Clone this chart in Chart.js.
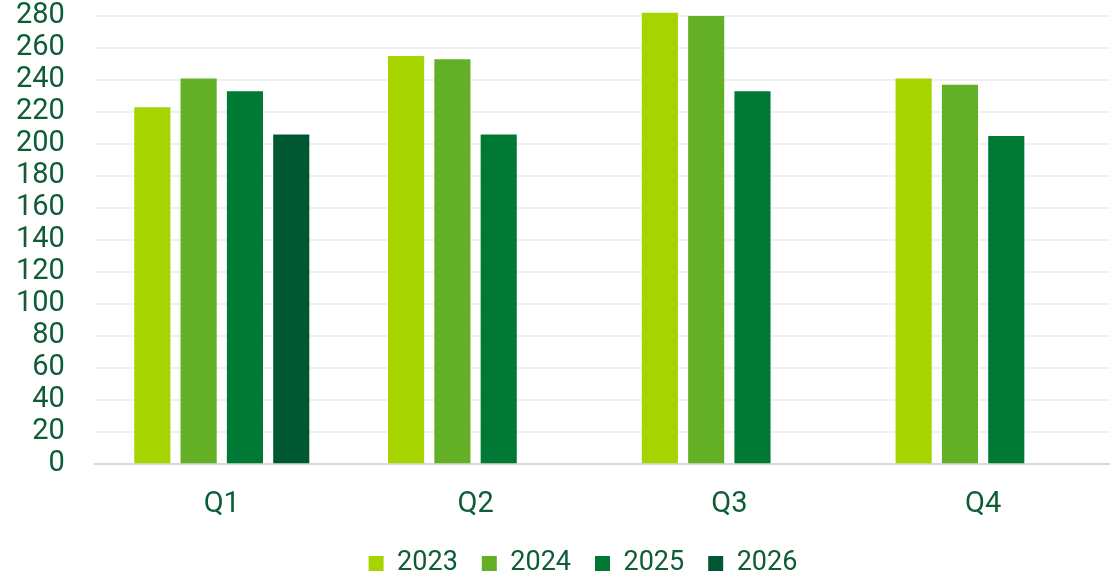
<!DOCTYPE html>
<html>
<head>
<meta charset="utf-8">
<script src="https://cdn.jsdelivr.net/npm/chart.js@4"></script>
<style>
  html, body { margin: 0; padding: 0; background: #fff; }
  #wrap { width: 1110px; height: 574px; }
</style>
</head>
<body>
<div id="wrap"><canvas id="quarters"></canvas></div>
<script>
var quarters = ['Q1', 'Q2', 'Q3', 'Q4'];
var years = ['2023', '2024', '2025', '2026'];
var values2023 = [223, 255, 282, 241];
var values2024 = [241, 253, 280, 237];
var values2025 = [233, 206, 233, 205];
var values2026 = [206, null, null, null];
var yTicks = [0, 20, 40, 60, 80, 100, 120, 140, 160, 180, 200, 220, 240, 260, 280];

var textColor = '#0d5c36';

// legend in the original sits a bit right of centre
var shiftLegend = {
    id: 'shiftLegend',
    afterLayout: function (chart) {
        chart.legend.left += 35;
        chart.legend.right += 35;
    }
};

var ctx = document.getElementById('quarters');
var chart = new Chart(ctx, {
    type: 'bar',
    data: {
        labels: quarters,
        datasets: [
            { label: years[0], data: values2023, backgroundColor: '#a6d400' },
            { label: years[1], data: values2024, backgroundColor: '#63b026' },
            { label: years[2], data: values2025, backgroundColor: '#007934' },
            { label: years[3], data: values2026, backgroundColor: '#005833' }
        ]
    },
    plugins: [shiftLegend],
    options: {
        responsive: true,
        maintainAspectRatio: false,
        animation: false,
        layout: { padding: { left: -14, right: 0, top: 0, bottom: -13 } },
        datasets: {
            bar: { categoryPercentage: 0.73, barPercentage: 0.78, clip: false }
        },
        scales: {
            x: {
                grid: { display: false },
                border: { color: '#d9d9d9', width: 2 },
                ticks: { color: textColor, font: { family: 'Roboto', size: 29 }, padding: 15 },
                afterFit: function (scale) { scale.height -= 11; }
            },
            y: {
                min: 0,
                max: 280,
                afterBuildTicks: function (axis) {
                    axis.ticks = yTicks.map(function (v) { return { value: v }; });
                },
                afterFit: function (scale) { scale.paddingTop = 16; },
                grid: { color: '#f0f0f0', lineWidth: 2, drawTicks: false },
                border: { display: false },
                ticks: { color: textColor, font: { family: 'Roboto', size: 29 }, padding: 30, autoSkip: false }
            }
        },
        plugins: {
            tooltip: { enabled: false },
            legend: {
                position: 'bottom',
                labels: {
                    color: textColor,
                    font: { family: 'Roboto', size: 27 },
                    boxWidth: 15,
                    boxHeight: 15,
                    padding: 24
                }
            }
        }
    }
});
</script>
</body>
</html>
